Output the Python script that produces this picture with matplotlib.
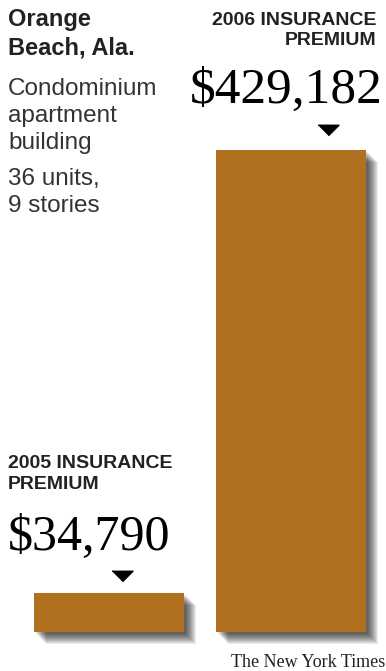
import matplotlib
matplotlib.use("Agg")
import matplotlib.pyplot as plt
import matplotlib.patheffects as pe
from matplotlib.transforms import offset_copy

years = ["2005", "2006"]
premiums = [34790, 429182]

bar_color = "#b07020"
W, H = 386, 671

fig = plt.figure(figsize=(W / 100, H / 100), dpi=100)

# axes spans from bar bottom to the tallest bar's top
ax = fig.add_axes([34 / W, (H - 632) / H, 332 / W, (632 - 150) / H])
ax.set_xlim(-0.412, 1.412)
ax.set_ylim(0, max(premiums))
ax.axis("off")

# soft drop shadow made of stacked offset shadows
shadow = [pe.SimplePatchShadow(offset=(d * 0.72, -d * 0.72), shadow_rgbFace="black", alpha=0.08)
          for d in range(12, 1, -1)]
bars = ax.bar(range(len(premiums)), premiums, width=0.824, color=bar_color, clip_on=False,
              path_effects=shadow + [pe.Normal()])

# small pointers above each bar
tri = [(-1, 0.5), (1, 0.5), (0, -0.5)]
tri_off = [(13, 16.5), (36.5, 20)]
for i, v in enumerate(premiums):
    tr = offset_copy(ax.transData, fig=fig, x=tri_off[i][0], y=tri_off[i][1], units="dots")
    ax.plot([i], [v], marker=tri, markersize=21 * 0.72, color="black", transform=tr, clip_on=False)

def px(x, y):
    return x / W, 1 - y / H

sans = "Liberation Sans"
serif = "Liberation Serif"

fig.text(*px(8, 8), "Orange\nBeach, Ala.", ha="left", va="top", fontsize=17, fontweight="bold",
         family=sans, color="#222222", linespacing=1.28)
fig.text(*px(8, 78), "Condominium\napartment\nbuilding", ha="left", va="top", fontsize=17.5,
         family=sans, color="#333333", linespacing=1.3)
fig.text(*px(8, 168), "36 units,\n9 stories", ha="left", va="top", fontsize=17.5,
         family=sans, color="#333333", linespacing=1.3)

fig.text(*px(376, 12), f"{years[1]} INSURANCE\nPREMIUM", ha="right", va="top", fontsize=14,
         fontweight="bold", family=sans, color="#222222", linespacing=1.25)
fig.text(*px(383, 103), f"${premiums[1]:,}", ha="right", va="baseline", fontsize=37,
         family=serif, color="black")

fig.text(*px(8, 455), f"{years[0]} INSURANCE\nPREMIUM", ha="left", va="top", fontsize=14,
         fontweight="bold", family=sans, color="#222222", linespacing=1.3)
fig.text(*px(8, 550), f"${premiums[0]:,}", ha="left", va="baseline", fontsize=36,
         family=serif, color="black")

fig.text(*px(385, 667), "The New York Times", ha="right", va="baseline", fontsize=13,
         family=serif, color="#222222")

fig.savefig("out.png", dpi=100)
